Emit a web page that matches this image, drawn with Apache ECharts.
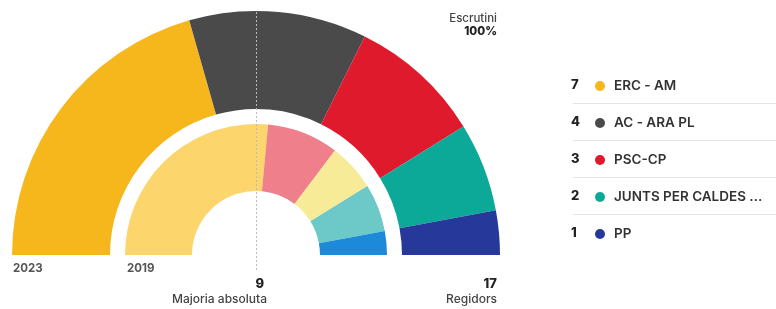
<!DOCTYPE html>
<html>
<head>
<meta charset="utf-8">
<script src="https://cdn.jsdelivr.net/npm/echarts@6/dist/echarts.min.js"></script>
<style>
  html, body { margin: 0; padding: 0; background: #fff; }
  #chart { width: 776px; height: 309px; }
</style>
</head>
<body>
<div id="chart"></div>
<script>
const parties = ['ERC - AM', 'AC - ARA PL', 'PSC-CP', 'JUNTS PER CALDES ...', 'PP']
const seats2023 = [7, 4, 3, 2, 1]
const colors2023 = ['#F6B71C', '#4A4A4A', '#DE1A2C', '#0DA998', '#26399A']

const parties2019 = ['ERC 2019', 'PSC 2019', 'JxCat 2019', 'AC 2019', 'PP 2019']
const seats2019 = [9, 3, 2, 2, 1]
const colors2019 = ['#FCD66C', '#EE7F8B', '#F8EB97', '#6DC8C8', '#1C8AD8']

const totalSeats = 17
const majority = 9

const cx = 256, cy = 255
const font = 'Inter, "Noto Sans", sans-serif'

const chart = echarts.init(document.getElementById('chart'))

function half(names, values, colors) {
    const data = values.map((v, i) => ({
        name: names[i], value: v, itemStyle: { color: colors[i] }
    }))
    // invisible lower half
    data.push({
        name: '_rest', value: values.reduce((a, b) => a + b, 0),
        itemStyle: { color: 'rgba(0,0,0,0)' }, emphasis: { disabled: true }
    })
    return data
}

const graphic = [
    {
        type: 'line', silent: true, z: 10,
        shape: { x1: cx + 0.5, y1: cy - 243, x2: cx + 0.5, y2: cy + 17 },
        style: { stroke: '#BDBDBD', lineWidth: 1, lineDash: [2, 2] }
    },
    { type: 'text', left: 13, top: 263, style: { text: '2023', font: '700 11.5px ' + font, fill: '#555' } },
    { type: 'text', left: 127, top: 263, style: { text: '2019', font: '700 11.5px ' + font, fill: '#555' } },
    { type: 'text', right: 776 - 264, top: 278, style: { text: String(majority), font: '800 13px ' + font, fill: '#222' } },
    { type: 'text', right: 776 - 267, top: 293, style: { text: 'Majoria absoluta', font: '500 12px ' + font, fill: '#444' } },
    { type: 'text', right: 776 - 497, top: 278, style: { text: String(totalSeats), font: '800 13px ' + font, fill: '#222' } },
    { type: 'text', right: 776 - 497, top: 293, style: { text: 'Regidors', font: '500 12px ' + font, fill: '#444' } },
    { type: 'text', right: 776 - 497, top: 13, style: { text: 'Escrutini', font: '500 11.5px ' + font, fill: '#444' } },
    { type: 'text', right: 776 - 497, top: 26, style: { text: '100%', font: '800 11.5px ' + font, fill: '#222' } }
]

// legend rows: seat count, dot, name, separator
const rowY0 = 86, rowStep = 37
parties.forEach((p, i) => {
    const y = rowY0 + i * rowStep
    graphic.push({
        type: 'text', left: 571, top: y - 7,
        style: { text: String(seats2023[i]), font: '800 13px ' + font, fill: '#222' }
    })
    graphic.push({
        type: 'circle', shape: { cx: 600, cy: y, r: 5 },
        style: { fill: colors2023[i] }
    })
    graphic.push({
        type: 'text', left: 614, top: y - 7.5,
        style: { text: p, font: '600 13.5px ' + font, fill: '#333' }
    })
    if (i < parties.length - 1) {
        graphic.push({
            type: 'line',
            shape: { x1: 573, y1: y + 17.5, x2: 776, y2: y + 17.5 },
            style: { stroke: '#E4E4E4', lineWidth: 1 }
        })
    }
})

chart.setOption({
    animation: false,
    backgroundColor: '#fff',
    series: [
        {
            name: '2023',
            type: 'pie',
            center: [cx, cy],
            radius: [146, 244],
            startAngle: 180,
            clockwise: true,
            silent: true,
            label: { show: false },
            labelLine: { show: false },
            data: half(parties, seats2023, colors2023)
        },
        {
            name: '2019',
            type: 'pie',
            center: [cx, cy],
            radius: [64, 131],
            startAngle: 180,
            clockwise: true,
            silent: true,
            label: { show: false },
            labelLine: { show: false },
            data: half(parties2019, seats2019, colors2019)
        }
    ],
    graphic: graphic
})
</script>
</body>
</html>
